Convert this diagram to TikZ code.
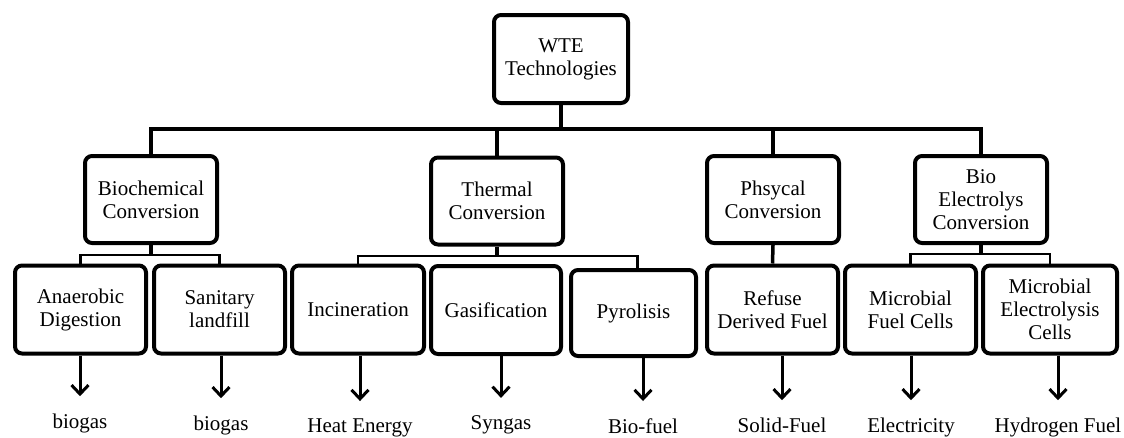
\documentclass[tikz,border=0pt]{standalone}
\usepackage{fontspec}
\setmainfont{Liberation Serif}
\usetikzlibrary{arrows.meta}

\tikzset{
	box/.style={draw, line width=4pt, rounded corners=7pt, align=center, inner sep=2pt,
		minimum width=132pt, minimum height=88pt, font=\fontsize{21}{23}\selectfont},
	link/.style={line width=3.5pt},
	bar/.style={line width=2.5pt},
	arr/.style={line width=3pt, -{Straight Barb[length=9pt,width=17pt]}, shorten >=14pt},
	outtext/.style={anchor=base, inner sep=3pt, font=\fontsize{21}{23}\selectfont}
}

\begin{document}
\begin{tikzpicture}[x=1pt, y=-1pt]
	%\draw[help lines, gray!30] (0,0) grid[step=50pt] (1124,437);
	\useasboundingbox (0,0) rectangle (1124,437);
	
	\node[box, minimum width=134pt] (wte) at (561,59) {WTE\\Technologies};
	
	\node[box, minimum height=87pt] (biochem) at (151,199.5) {Biochemical\\Conversion};
	\node[box, minimum height=87pt] (thermal) at (497,201) {Thermal\\Conversion};
	\node[box, minimum height=87pt] (physical) at (773,199.5) {Phsycal\\Conversion};
	\node[box, minimum height=87pt] (bioel) at (981,199.5) {Bio\\Electrolys\\Conversion};
	
	\node[box, minimum width=131pt] (anaer) at (80.5,309.5) {Anaerobic\\Digestion};
	\node[box, minimum width=131pt] (landfill) at (219.5,309.5) {Sanitary\\landfill};
	\node[box] (incin) at (358,309.5) {Incineration};
	\node[box, minimum width=130pt] (gasif) at (496,310) {Gasification};
	\node[box, minimum width=125pt, minimum height=86pt] (pyro) at (633.5,313) {Pyrolisis};
	\node[box, minimum width=131pt] (rdf) at (772.5,309.5) {Refuse\\Derived Fuel};
	\node[box, minimum width=131pt] (mfc) at (910.5,309.5) {Microbial\\Fuel Cells};
	\node[box, minimum width=134pt] (mec) at (1050,309.5) {Microbial\\Electrolysis\\Cells};
	
	\coordinate (bus) at (561,129);
	\draw[link] (wte.south) -- (wte.south |- bus);
	\draw[link] (biochem.north) |- (bus) -| (bioel.north);
	\foreach \n in {thermal, physical}
	\draw[link] (\n.north) -- (\n.north |- bus);
	
	\coordinate (subA) at (151,255);
	\coordinate (subB) at (497,256);
	\coordinate (subC) at (981,254);
	\draw[link] (biochem.south) -- (subA);
	\draw[bar] (anaer.north) |- (subA) -| (landfill.north);
	\draw[link] (thermal.south) -- (subB);
	\draw[bar] (incin.north) |- (subB) -| ([xshift=4pt]pyro.north);
	\draw[link] (physical.south) -- (rdf.north);
	\draw[link] (bioel.south) -- (subC);
	\draw[bar] (mfc.north) |- (subC) -| (mec.north);
	
	\foreach \src/\name/\x/\y/\txt in {anaer/biogasA/80/428/biogas, landfill/biogasB/221/430/biogas,
		incin/heat/360/432/Heat Energy, gasif/syngas/501/429/Syngas, pyro/biofuel/643/433/Bio-fuel,
		rdf/solid/782/432/Solid-Fuel, mfc/elec/911/432/Electricity, mec/hydrogen/1058/432/Hydrogen Fuel}
	{
		\node[outtext] (\name) at (\x,\y) {\txt};
		\draw[arr] (\name.north |- \src.south) -- (\name.north);
	}
	
\end{tikzpicture}
\end{document}
